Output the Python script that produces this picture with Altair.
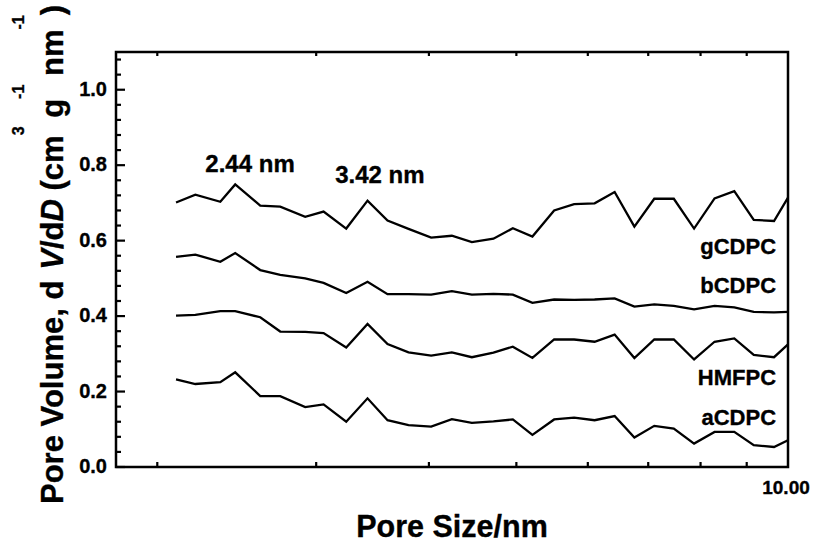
import altair as alt
import pandas as pd

# ---------------- data ----------------
pore_size = [2.098, 2.204, 2.349, 2.44, 2.601, 2.737, 2.917, 3.057, 3.239, 3.42,
             3.599, 3.797, 4.023, 4.241, 4.463, 4.716, 4.955, 5.209, 5.506, 5.794,
             6.105, 6.425, 6.757, 7.109, 7.472, 7.869, 8.291, 8.719, 9.163, 9.650, 10.0]

gCDPC = [0.701, 0.722, 0.703, 0.749, 0.693, 0.690, 0.663, 0.677, 0.632, 0.706,
         0.653, 0.631, 0.608, 0.613, 0.596, 0.605, 0.633, 0.611, 0.680, 0.697,
         0.699, 0.729, 0.637, 0.711, 0.711, 0.632, 0.712, 0.731, 0.655, 0.652, 0.714]
bCDPC = [0.557, 0.563, 0.544, 0.567, 0.522, 0.509, 0.500, 0.488, 0.461, 0.491,
         0.458, 0.458, 0.457, 0.466, 0.457, 0.459, 0.457, 0.435, 0.444, 0.443,
         0.444, 0.447, 0.425, 0.431, 0.427, 0.418, 0.427, 0.423, 0.411, 0.410, 0.411]
HMFPC = [0.401, 0.403, 0.413, 0.413, 0.397, 0.359, 0.358, 0.355, 0.317, 0.379,
         0.326, 0.304, 0.295, 0.304, 0.291, 0.303, 0.319, 0.289, 0.338, 0.338,
         0.332, 0.351, 0.289, 0.338, 0.338, 0.285, 0.332, 0.341, 0.297, 0.291, 0.325]
aCDPC = [0.232, 0.220, 0.225, 0.251, 0.188, 0.188, 0.159, 0.166, 0.120, 0.182,
         0.124, 0.111, 0.107, 0.127, 0.117, 0.121, 0.126, 0.085, 0.126, 0.131,
         0.124, 0.135, 0.078, 0.109, 0.102, 0.062, 0.093, 0.093, 0.058, 0.053, 0.071]

series_names = ["gCDPC", "bCDPC", "HMFPC", "aCDPC"]
series_values = [gCDPC, bCDPC, HMFPC, aCDPC]

# series labels (x, y in data units)
series_label_x = [9.7, 9.7, 9.7, 9.7]
series_label_y = [0.565, 0.460, 0.217, 0.111]

# peak annotations
peak_labels = ["2.44 nm", "3.42 nm"]
peak_x = [2.261, 3.149]
peak_y = [0.783, 0.752]

y_major = [0.0, 0.2, 0.4, 0.6, 0.8, 1.0]
y_tick_labels = ["0.0", "0.2", "0.4", "0.6", "0.8", "1.0"]
y_minor = [0.04, 0.08, 0.12, 0.16, 0.24, 0.28, 0.32, 0.36, 0.44, 0.48, 0.52,
           0.56, 0.64, 0.68, 0.72, 0.76, 0.84, 0.88, 0.92, 0.96, 1.04, 1.08]
x_minor = [2, 3, 4, 5, 6, 7, 8, 9]
x_major = [10]
x_tick_labels = ["10.00"]

# ---------------- layout ----------------
FONT = "Liberation Sans"
W, H = 672, 415
PAD = {"left": 116, "top": 52, "right": 31, "bottom": 75}
TXT = dict(font=FONT, fontWeight="bold", color="black", stroke="black", strokeWidth=0.35)

rows = []
for name, vals in zip(series_names, series_values):
    for xv, yv in zip(pore_size, vals):
        rows.append({"series": name, "size": xv, "v": yv})
df = pd.DataFrame(rows)

xs = alt.Scale(type="log", domain=[1.8, 10], nice=False)
ys = alt.Scale(domain=[0, 1.1], nice=False, zero=False)
X = lambda f="size:Q": alt.X(f, scale=xs, axis=None)
Y = lambda f="v:Q": alt.Y(f, scale=ys, axis=None)

lines = alt.Chart(df).mark_line(color="black", strokeWidth=2.3).encode(
    x=X(), y=Y(), detail="series:N")

frame = alt.Chart(pd.DataFrame({"a": [0]})).mark_rect(
    filled=False, stroke="black", strokeWidth=2.5
).encode(x=alt.value(0), x2=alt.value(W), y=alt.value(0), y2=alt.value(H))

ymaj = alt.Chart(pd.DataFrame({"v": y_major})).mark_rule(color="black", strokeWidth=2.2).encode(
    y=Y(), x=alt.value(0), x2=alt.value(9))
ymin = alt.Chart(pd.DataFrame({"v": y_minor})).mark_rule(color="black", strokeWidth=2.2).encode(
    y=Y(), x=alt.value(0), x2=alt.value(5))
xbot = alt.Chart(pd.DataFrame({"size": x_minor})).mark_rule(color="black", strokeWidth=2.2).encode(
    x=X(), y=alt.value(H), y2=alt.value(H - 5))
xtop = alt.Chart(pd.DataFrame({"size": x_minor})).mark_rule(color="black", strokeWidth=2.2).encode(
    x=X(), y=alt.value(0), y2=alt.value(4))

ylab = alt.Chart(pd.DataFrame({"v": y_major, "t": y_tick_labels})).mark_text(
    align="right", baseline="middle", fontSize=20, **TXT
).encode(y=Y(), x=alt.value(-9), text="t:N")
xlab = alt.Chart(pd.DataFrame({"size": x_major, "t": x_tick_labels})).mark_text(
    align="center", baseline="alphabetic", fontSize=19, dx=-2, **TXT
).encode(x=X(), y=alt.value(H + 26.5), text="t:N")

lab_df = pd.DataFrame({"t": series_names, "size": series_label_x, "v": series_label_y})
labels = alt.Chart(lab_df).mark_text(
    align="right", baseline="alphabetic", fontSize=22, **TXT
).encode(x=X(), y=Y(), text="t:N")

peak_df = pd.DataFrame({"t": peak_labels, "size": peak_x, "v": peak_y})
peaks = alt.Chart(peak_df).mark_text(
    align="left", baseline="alphabetic", fontSize=24, **TXT
).encode(x=X(), y=Y(), text="t:N")

one = pd.DataFrame({"a": [0]})

xtitle = alt.Chart(one).mark_text(
    text="Pore Size/nm", align="center", baseline="alphabetic", fontSize=30.5, **TXT
).encode(x=alt.value(W / 2), y=alt.value(H + 69.7))

# y title built from pieces (Arial/Liberation Bold advance widths per 1000 em)
adv = {"P": 667, "o": 611, "r": 389, "e": 556, " ": 278, "V": 667, "l": 278, "u": 611,
       "m": 889, ",": 278, "d": 611, "/": 278, "D": 722, "(": 333, "c": 556, "g": 611,
       "n": 611, ")": 333, "3": 556, "-": 333, "1": 556}
MAIN, SUP = 31, 16
pieces = [
    ("Pore Volume, d", MAIN, "normal", False),
    (" ", MAIN, "normal", False),
    ("V", MAIN, "italic", False),
    ("/d", MAIN, "normal", False),
    ("D", MAIN, "italic", False),
    (" ", MAIN, "normal", False),
    ("(cm", MAIN, "normal", False),
    ("3", SUP, "normal", True),
    (" ", MAIN, "normal", False),
    ("g", MAIN, "normal", False),
    ("-1", SUP, "normal", True),
    (" ", MAIN, "normal", False),
    ("nm", MAIN, "normal", False),
    ("-1", SUP, "normal", True),
    (")", MAIN, "normal", False),
]
ytitle_layers = []
pos = 452.0  # start (bottom) of the rotated title, relative to plot top
for txt, fs, style, sup in pieces:
    w = sum(adv[c] for c in txt) / 1000.0 * fs
    if txt.strip():
        ytitle_layers.append(
            alt.Chart(one).mark_text(
                text=txt, angle=270, align="left", baseline="alphabetic",
                fontSize=fs, fontStyle=style, **TXT
            ).encode(x=alt.value(-92 if sup else -52.7), y=alt.value(pos))
        )
    pos -= w

chart = alt.layer(
    lines, frame, ymaj, ymin, xbot, xtop, ylab, xlab, labels, peaks, xtitle, *ytitle_layers
).properties(
    width=W, height=H,
    autosize=alt.AutoSizeParams(type="none"),
    padding=PAD,
    background="white",
).configure_view(stroke=None)

chart.save("out.html", embed_options={"renderer": "svg", "actions": False})
